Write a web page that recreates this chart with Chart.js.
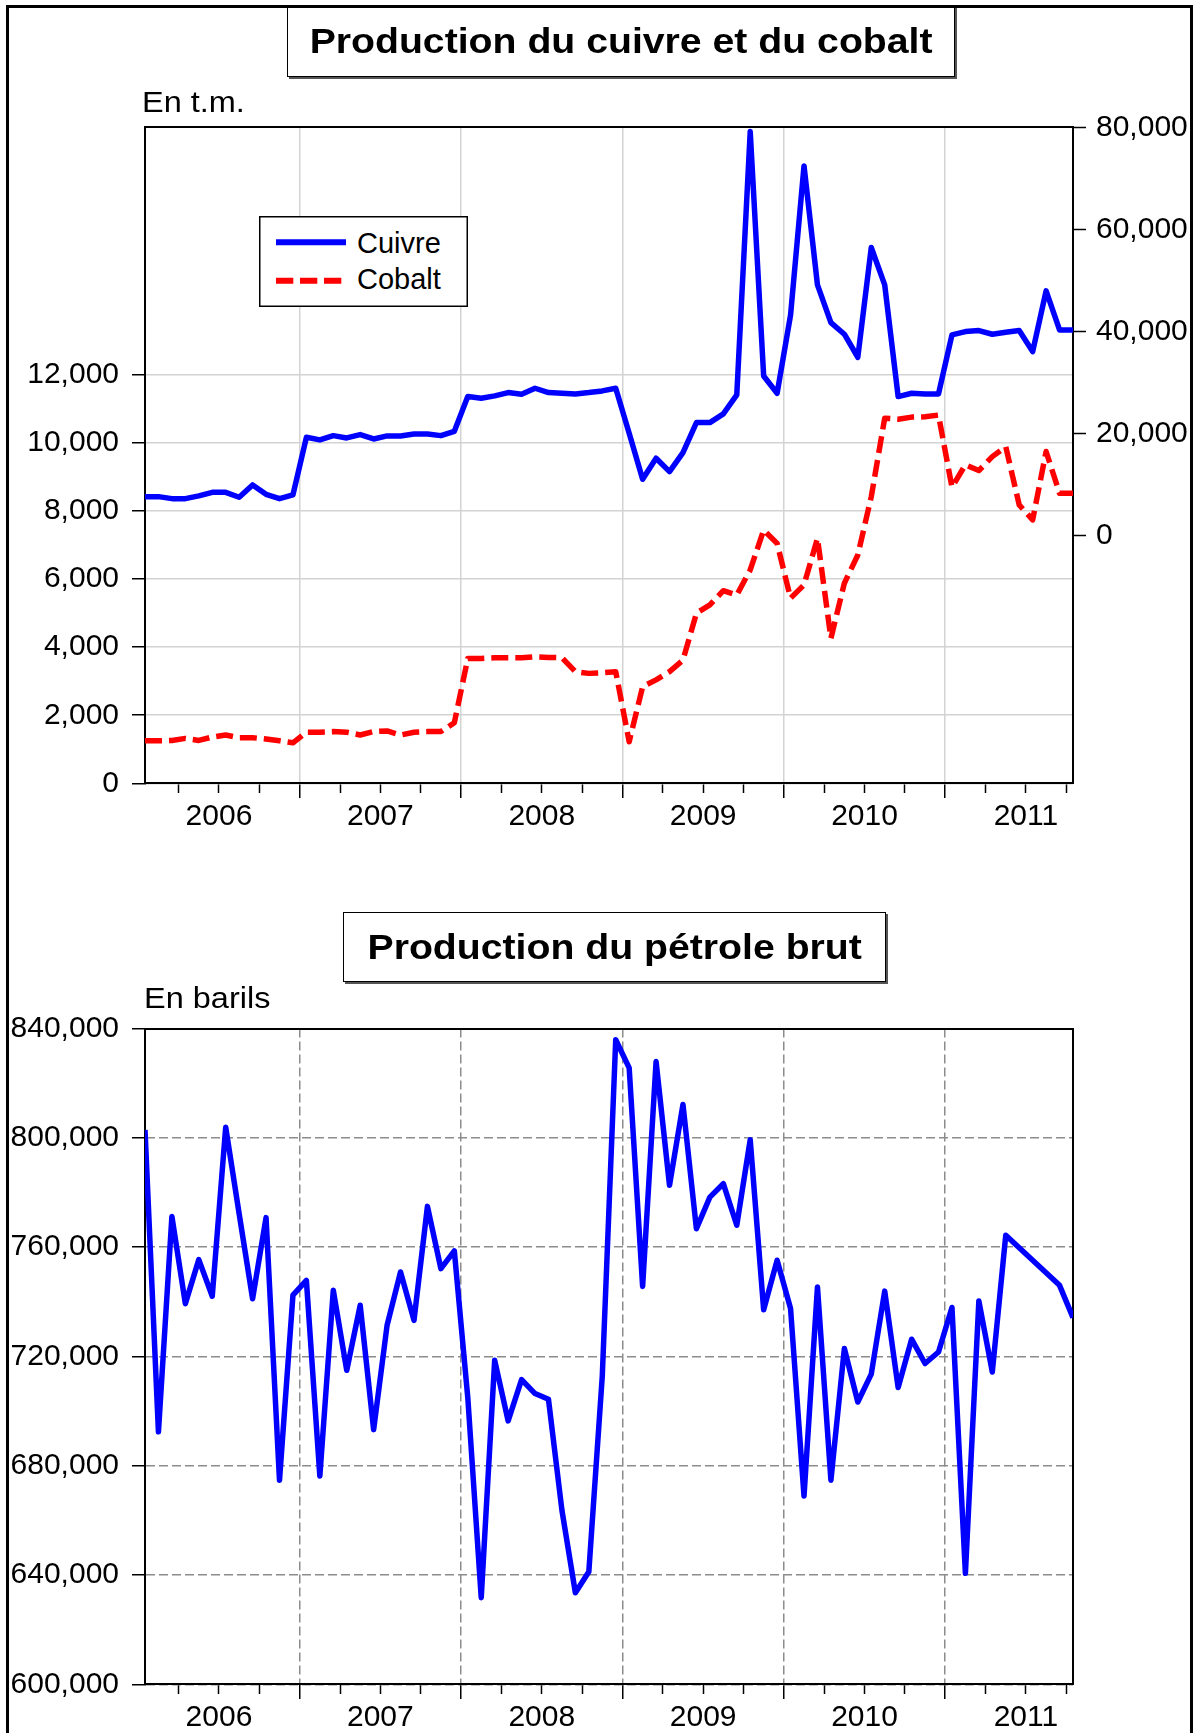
<!DOCTYPE html>
<html>
<head>
<meta charset="utf-8">
<title>Production du cuivre, du cobalt et du pétrole brut</title>
<script src="https://cdn.jsdelivr.net/npm/chart.js@4.4.0/dist/chart.umd.min.js"></script>
<style>
  html, body { margin: 0; padding: 0; background: #fff; }
  body { position: relative; width: 1200px; height: 1733px; overflow: hidden;
         font-family: "Liberation Sans", Arial, sans-serif; color: #000; }
  canvas { position: absolute; left: 9px; }
  #copperChart { top: 8px; }
  #oilChart { top: 860px; }
  .frame { position: absolute; left: 6px; top: 5px; width: 1187px; height: 1800px;
           box-sizing: border-box; border: 3px solid #000; }
  .titlebox { position: absolute; box-sizing: border-box; border: 1px solid #000;
              box-shadow: 2px 2px 0 #555; background: #fff; display: flex;
              align-items: center; justify-content: center;
              font-weight: bold; font-size: 35px; white-space: nowrap; }
  .titlebox span { display: inline-block; transform: scaleX(1.12); }
  .txt { position: absolute; font-size: 29px; line-height: 29px; white-space: nowrap; }
  .unit { transform: scaleX(1.12); transform-origin: left top; }
</style>
</head>
<body>
<canvas id="copperChart" width="1181" height="852"></canvas>
<canvas id="oilChart" width="1181" height="873"></canvas>

<div class="titlebox" style="left:287px; top:5px; width:668px; height:72px;"><span>Production du cuivre et du cobalt</span></div>
<div class="txt unit" style="left:142px; top:88px;">En t.m.</div>

<svg style="position:absolute; left:259px; top:216px;" width="210" height="92">
  <rect x="0.75" y="0.75" width="207.5" height="89.5" fill="#fff" stroke="#000" stroke-width="1.5"/>
  <line id="lgCuivre" x1="17" y1="26.3" x2="87" y2="26.3" stroke-width="6"/>
  <line id="lgCobalt" x1="17" y1="64.7" x2="87" y2="64.7" stroke-width="6" stroke-dasharray="17.3 6.7"/>
</svg>
<div class="txt" id="lgCuivreTxt" style="left:357px; top:228.5px;"></div>
<div class="txt" id="lgCobaltTxt" style="left:357px; top:265px;"></div>

<div class="titlebox" style="left:343px; top:912px; width:543px; height:70px;"><span>Production du pétrole brut</span></div>
<div class="txt unit" style="left:144px; top:984px;">En barils</div>

<div class="frame"></div>

<script>
// monthly observations, 2006M01 - 2011M10
const months = [];
for (let y = 2006; y <= 2011; y++) {
  for (let m = 1; m <= 12; m++) {
    if (y === 2011 && m > 10) break;
    months.push(y + 'M' + String(m).padStart(2, '0'));
  }
}
const years = ['2006', '2007', '2008', '2009', '2010', '2011'];

// copper, tonnes (right axis)
const cuivre = [
  7700, 7700, 7310, 7310, 7840, 8550, 8550, 7580, 9990, 8160, 7310, 8030,
  19330, 18810, 19650, 19200, 19850, 19000, 19590, 19590, 19980, 19980, 19650, 20500,
  27300, 26970, 27430, 28080, 27750, 28930, 28080, 27950, 27820, 28080, 28410, 28930,
  20100, 11100, 15220, 12600, 16330, 22200, 22200, 23900, 27620, 79210, 31340, 27950,
  43290, 72480, 49170, 41790, 39510, 35000, 56490, 49170, 27300, 27950, 27820, 27820,
  39380, 40030, 40230, 39510, 39900, 40230, 36110, 48000, 40360, 40360
];
// cobalt, tonnes (left axis)
const cobalt = [
  1250, 1250, 1260, 1320, 1260, 1360, 1420, 1340, 1340, 1300, 1250, 1190,
  1500, 1500, 1520, 1500, 1420, 1520, 1540, 1420, 1500, 1520, 1520, 1780,
  3670, 3670, 3690, 3690, 3690, 3720, 3700, 3690, 3280, 3230, 3250, 3280,
  1220, 2840, 3040, 3280, 3620, 5000, 5240, 5660, 5530, 6270, 7440, 7050,
  5440, 5830, 7200, 4260, 5880, 6710, 8420, 10730, 10700, 10760, 10770, 10820,
  8700, 9360, 9190, 9600, 9890, 8180, 7740, 9750, 8520, 8520
];
// crude oil, barrels
const petrole = [
  802900, 692400, 771200, 739300, 755400, 742000, 803900, 772200, 741100, 770800, 674700, 742400,
  747800, 676200, 744200, 714900, 738700, 693200, 731400, 750900, 733200, 774900, 752100, 758600,
  705000, 631700, 718600, 696400, 711500, 706400, 704300, 663700, 633500, 641200, 712800, 835900,
  825600, 745600, 827900, 782600, 812200, 766700, 778300, 783200, 768000, 799300, 737100, 755200,
  737500, 668900, 745400, 674700, 722900, 703300, 713500, 743900, 708600, 726300, 717400, 721600,
  737900, 640600, 740300, 714300, 764300, null, null, null, 746000, 734200
];

const cobaltTicks = [0, 2000, 4000, 6000, 8000, 10000, 12000];
const cuivreTicks = [0, 20000, 40000, 60000, 80000];
const petroleTicks = [600000, 640000, 680000, 720000, 760000, 800000, 840000];

const blue = '#0000ff';
const red = '#ff0000';
const black = '#000';
const tickFont = { family: '"Liberation Sans", Arial, sans-serif', size: 30 };

Chart.defaults.font.family = '"Liberation Sans", Arial, sans-serif';
Chart.defaults.color = black;

const last = months.length - 1;
// year boundaries inside the plot only (the 2006 one falls before the first month)
const yearStarts = years.map(y => months.indexOf(y + 'M01') - 0.5).filter(v => v > 0);
const yearMids = years.map(y => months.indexOf(y + 'M01') + 5.5);
const quarterStarts = [];
months.forEach((m, i) => {
  if (['04', '07', '10'].includes(m.slice(-2))) quarterStarts.push(i - 0.5);
});

const pts = arr => arr.map((v, i) => ({ x: i, y: v }));
const fixTicks = values => scale => { scale.ticks = values.map(v => ({ value: v })); };
const fmt = v => v.toLocaleString('en-US');

// time axes shared by both charts: labels, year grid, quarter marks, top border
function timeAxes(yId, yMin, gridColor, dash, labelHeight) {
  return {
    x: {
      type: 'linear', position: 'bottom', min: 0, max: last,
      afterBuildTicks: fixTicks(yearMids),
      afterFit: s => { s.height = labelHeight; },
      grid: { display: false, drawTicks: false },
      border: { color: black, width: 2 },
      ticks: { font: tickFont, color: black, padding: 15, autoSkip: false, maxRotation: 0,
               callback: (v, i) => years[i] }
    },
    xYears: {
      type: 'linear', axis: 'x', position: { [yId]: yMin }, min: 0, max: last,
      afterBuildTicks: fixTicks(yearStarts),
      ticks: { display: false },
      grid: { color: gridColor, lineWidth: 1.5, tickColor: black, tickWidth: 1.5, tickLength: 15 },
      border: { display: false, dash: dash }
    },
    xQuarters: {
      type: 'linear', axis: 'x', position: { [yId]: yMin }, min: 0, max: last,
      afterBuildTicks: fixTicks(quarterStarts),
      ticks: { display: false },
      grid: { drawOnChartArea: false, tickColor: black, tickWidth: 1.5, tickLength: 10 },
      border: { display: false }
    },
    xTop: {
      type: 'linear', position: 'top', min: 0, max: last,
      ticks: { display: false },
      grid: { display: false, drawTicks: false },
      border: { color: black, width: 2 }
    }
  };
}

const ctx1 = document.getElementById('copperChart').getContext('2d');
const copperChart = new Chart(ctx1, {
  type: 'line',
  data: {
    datasets: [{
      label: 'Cuivre',
      data: pts(cuivre),
      yAxisID: 'y2',
      borderColor: blue,
      borderWidth: 5.5,
      pointRadius: 0,
      tension: 0,
      borderJoinStyle: 'round'
    }, {
      label: 'Cobalt',
      data: pts(cobalt),
      yAxisID: 'y',
      borderColor: red,
      borderWidth: 5.5,
      borderDash: [17, 7],
      pointRadius: 0,
      tension: 0,
      borderJoinStyle: 'round'
    }]
  },
  options: {
    responsive: false,
    animation: false,
    events: [],
    layout: { padding: { top: 119, left: 0, right: 0, bottom: 0 } },
    plugins: { legend: { display: false }, tooltip: { enabled: false } },
    scales: Object.assign(timeAxes('y', 0, '#d3d3d3', [], 76.7), {
      y: {
        position: 'left', min: 0, max: 19285,
        afterBuildTicks: fixTicks(cobaltTicks),
        afterFit: s => { s.width = 136; },
        ticks: { font: tickFont, color: black, padding: 13, autoSkip: false, callback: fmt },
        grid: { color: '#d3d3d3', lineWidth: 1.5, tickColor: black, tickWidth: 1.5, tickLength: 13 },
        border: { color: black, width: 2 }
      },
      y2: {
        position: 'right', min: -48446, max: 80100,
        afterBuildTicks: fixTicks(cuivreTicks),
        afterFit: s => { s.width = 117; },
        ticks: { font: tickFont, color: black, padding: 10, autoSkip: false, callback: fmt },
        grid: { drawOnChartArea: false, tickColor: black, tickWidth: 1.5, tickLength: 13 },
        border: { color: black, width: 2 }
      }
    })
  }
});

// html legend from the datasets
copperChart.data.datasets.forEach(ds => {
  document.getElementById('lg' + ds.label).setAttribute('stroke', ds.borderColor);
  document.getElementById('lg' + ds.label + 'Txt').textContent = ds.label;
});

const ctx2 = document.getElementById('oilChart').getContext('2d');
const oilChart = new Chart(ctx2, {
  type: 'line',
  data: {
    datasets: [{
      label: 'Pétrole brut',
      data: pts(petrole),
      borderColor: blue,
      borderWidth: 5.5,
      pointRadius: 0,
      tension: 0,
      spanGaps: true,
      borderJoinStyle: 'round'
    }]
  },
  options: {
    responsive: false,
    animation: false,
    events: [],
    layout: { padding: { top: 168.5, left: 0, right: 117, bottom: 0 } },
    plugins: { legend: { display: false }, tooltip: { enabled: false } },
    scales: Object.assign(timeAxes('y', 600000, '#8c8c8c', [9, 4], 48.7), {
      y: {
        position: 'left', min: 600000, max: 840000,
        afterBuildTicks: fixTicks(petroleTicks),
        afterFit: s => { s.width = 136; },
        ticks: { font: tickFont, color: black, padding: 13, autoSkip: false, callback: fmt },
        grid: { color: '#8c8c8c', lineWidth: 1.5, tickColor: black, tickWidth: 1.5, tickLength: 13 },
        border: { color: black, width: 2, dash: [9, 4] }
      },
      yR: {
        position: 'right', min: 600000, max: 840000,
        ticks: { display: false },
        grid: { drawOnChartArea: false, drawTicks: false },
        border: { color: black, width: 2 }
      }
    })
  }
});
</script>
</body>
</html>
